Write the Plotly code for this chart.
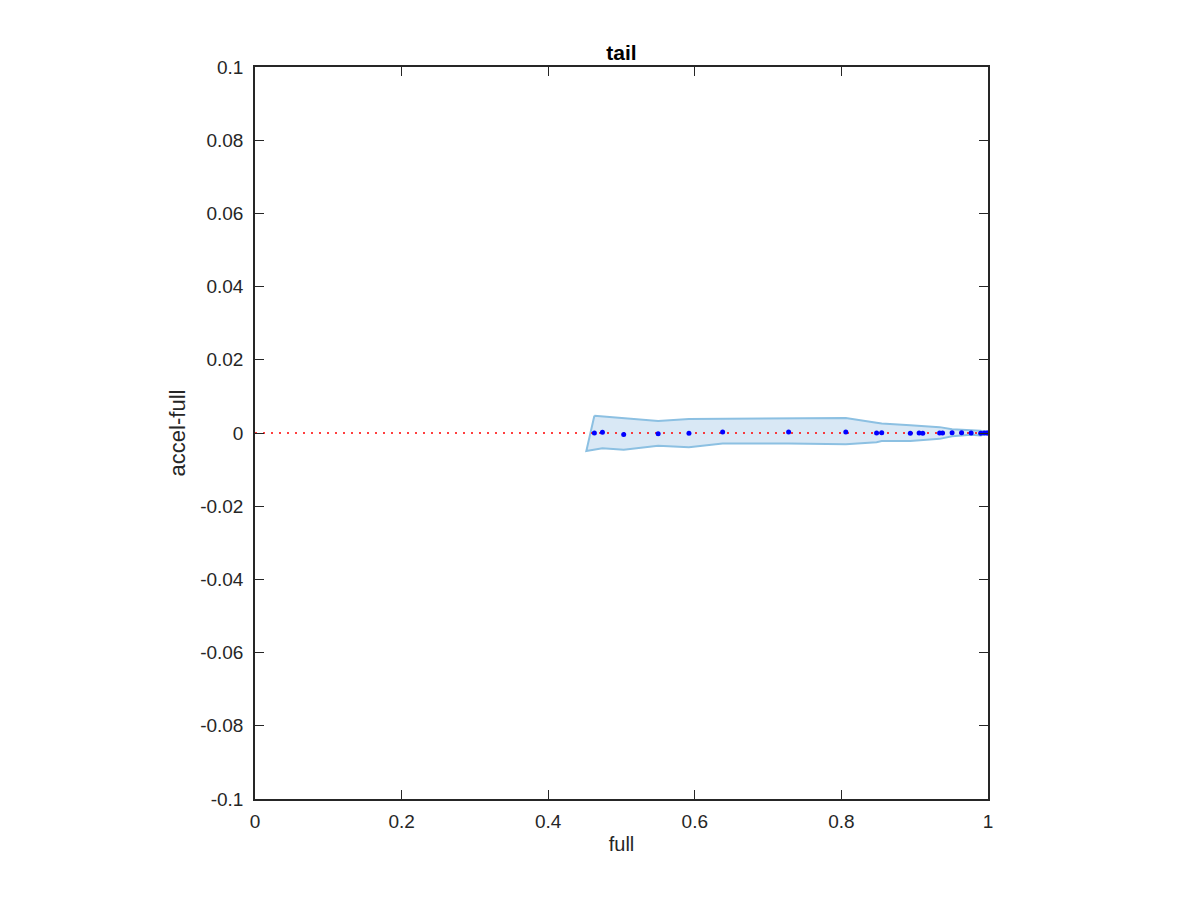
import plotly.graph_objects as go

# Observed points (full vs accel-full)
pts_x = [0.463, 0.474, 0.503, 0.550, 0.592, 0.638, 0.728, 0.806, 0.848, 0.855,
         0.894, 0.906, 0.911, 0.934, 0.938, 0.951, 0.964, 0.977, 0.990, 0.995, 0.998, 1.0]
pts_y = [0.0, 0.0002, -0.0004, -0.0002, -0.0001, 0.0003, 0.0003, 0.0003, 0.0, 0.0001,
         -0.0001, 0.0, -0.0001, 0.0, 0.0, 0.0001, 0.0001, 0.0, -0.0001, 0.0, 0.0, 0.0]

# Shaded band edges
upper_x = [0.463, 0.550, 0.592, 0.728, 0.806, 0.848, 0.855, 0.894, 0.906, 0.934, 0.951, 0.964, 0.977, 0.990, 1.0]
upper_y = [0.0047, 0.0033, 0.0038, 0.0039, 0.0041, 0.0028, 0.0026, 0.0021, 0.0020, 0.0016, 0.0010, 0.0008, 0.0006, 0.0006, 0.0002]
lower_x = [0.452, 0.474, 0.503, 0.550, 0.592, 0.638, 0.728, 0.806, 0.848, 0.855, 0.894, 0.934, 0.951, 0.964, 0.977, 0.990, 0.995, 1.0]
lower_y = [-0.0049, -0.0042, -0.0046, -0.0035, -0.0039, -0.0029, -0.0029, -0.0031, -0.0025, -0.0022, -0.0022, -0.0016, -0.0009, -0.0006, -0.0005, -0.0007, -0.0004, 0.0]

ref_x = [0, 1]
ref_y = [0, 0]

x_ticks = [0, 0.2, 0.4, 0.6, 0.8, 1]
x_labels = ["0", "0.2", "0.4", "0.6", "0.8", "1"]
y_ticks = [0.1, 0.08, 0.06, 0.04, 0.02, 0, -0.02, -0.04, -0.06, -0.08, -0.1]
y_labels = ["0.1", "0.08", "0.06", "0.04", "0.02", "0", "-0.02", "-0.04", "-0.06", "-0.08", "-0.1"]

FONT = "Liberation Sans, Arial, Helvetica"
INK = "#262626"

fig = go.Figure()

poly_x = upper_x + lower_x[::-1] + [upper_x[0]]
poly_y = upper_y + lower_y[::-1] + [upper_y[0]]
fig.add_trace(go.Scatter(x=poly_x, y=poly_y, mode="lines", fill="toself",
                         fillcolor="rgb(217,232,245)",
                         line=dict(color="rgb(140,192,226)", width=2),
                         hoverinfo="skip", showlegend=False))
fig.add_trace(go.Scatter(x=ref_x, y=ref_y, mode="lines",
                         line=dict(color="red", width=1.5, dash="2px,6px"),
                         showlegend=False))
fig.add_trace(go.Scatter(x=pts_x, y=pts_y, mode="markers",
                         marker=dict(color="blue", size=5),
                         showlegend=False))

axis_common = dict(showgrid=False, zeroline=False, showline=True, linecolor=INK,
                   linewidth=1.5, mirror="allticks", ticks="inside", ticklen=9,
                   tickcolor=INK, tickwidth=1,
                   tickfont=dict(family=FONT, size=19, color=INK))

fig.update_xaxes(range=[0, 1], tickvals=x_ticks, ticktext=x_labels,
                 ticklabelstandoff=4,
                 title=dict(text="full", font=dict(family=FONT, size=20, color=INK), standoff=6),
                 **axis_common)
fig.update_yaxes(range=[-0.1, 0.1], tickvals=y_ticks, ticktext=y_labels,
                 ticklabelstandoff=6,
                 title=dict(text="accel-full", font=dict(family=FONT, size=22, color=INK), standoff=8),
                 **axis_common)

fig.update_layout(
    width=1200, height=900,
    margin=dict(l=247, r=220, t=59, b=109),
    plot_bgcolor="white", paper_bgcolor="white",
    title=dict(text="<b>tail</b>", x=(247 + 980) / 2 / 1200, xanchor="center",
               y=1 - 45 / 900, yanchor="middle",
               font=dict(family=FONT, size=21, color="black")),
)

fig.write_html("out.html")
